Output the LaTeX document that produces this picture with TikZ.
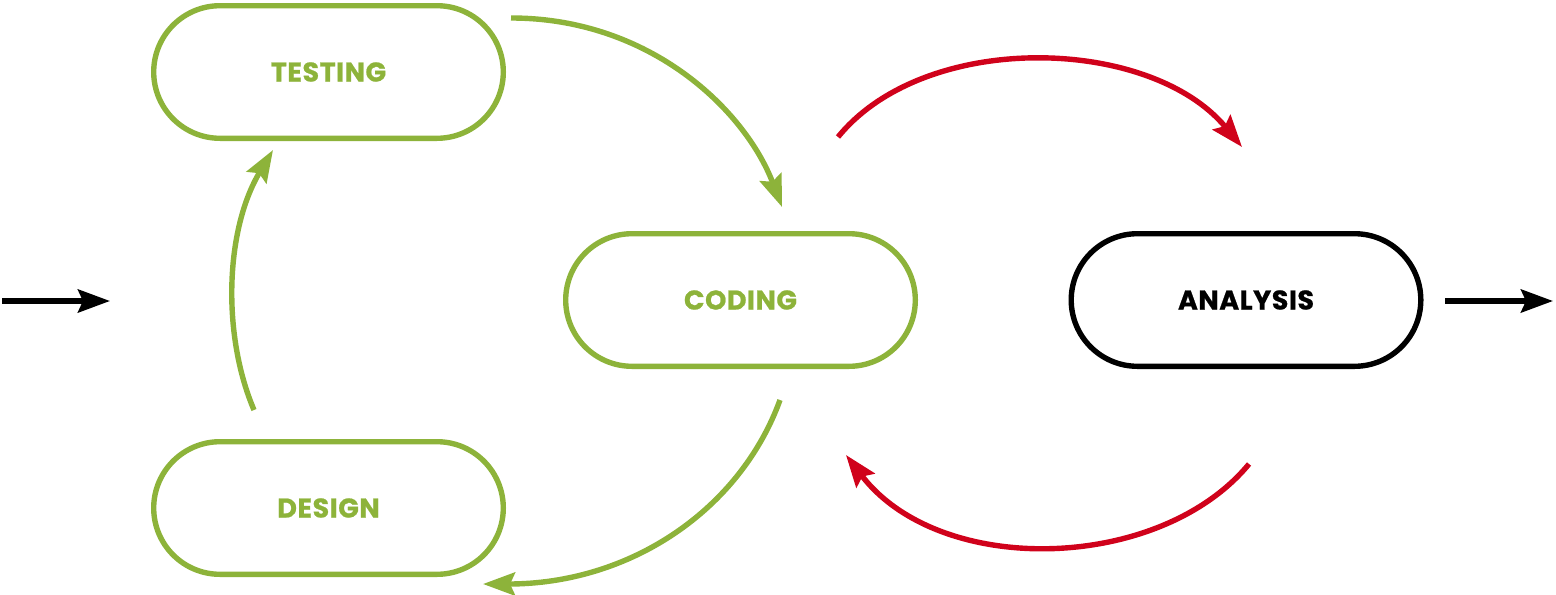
\documentclass[tikz,border=0pt]{standalone}
\usepackage{fontspec}
\setmainfont{Poppins}
\newfontfamily\boxfont[FakeBold=0.8,LetterSpace=2]{Poppins}
\usetikzlibrary{shapes.misc,arrows.meta}
\definecolor{cgreen}{HTML}{8DB33A}
\definecolor{cred}{HTML}{D0021B}
\tikzset{
  phase/.style={rounded rectangle, draw=#1, line width=2.7pt, minimum width=174.8pt, minimum height=66.3pt, inner sep=0pt, text=#1, font=\boxfont\bfseries\fontsize{13.5}{15}\selectfont},
  flow/.style={draw=#1, line width=2.7pt, -{Stealth[length=16pt,width=11.5pt,inset=2.5pt]}},
}
\begin{document}
\begin{tikzpicture}[x=0.5pt,y=-0.5pt]
\useasboundingbox (0,0) rectangle (1556,594);
\node[phase=cgreen] (testing) at (328.5,72) {TESTING};
\node[phase=cgreen] (coding) at (740.5,300) {CODING};
\node[phase=black] (analysis) at (1246,300) {ANALYSIS};
\node[phase=cgreen] (design) at (328.5,508) {DESIGN};
\coordinate (inS) at (2,301);
\coordinate (inE) at (110,301);
\coordinate (outS) at (1445,301);
\coordinate (outE) at (1553,301);
\coordinate (tcS) at (511,18);
\coordinate (tcE) at (782,207);
\coordinate (cdS) at (780,400);
\coordinate (cdE) at (483,584);
\coordinate (dtS) at (254,410);
\coordinate (dtE) at (273,150);
\coordinate (caS) at (838,137);
\coordinate (caE) at (1242,147);
\coordinate (acS) at (1249,464);
\coordinate (acE) at (846,455);
\draw[flow=black] (inS) -- (inE);
\draw[flow=black] (outS) -- (outE);
\draw[flow=cgreen] (tcS) .. controls (650,18) and (745,110) .. (tcE);
\draw[flow=cgreen] (cdS) .. controls (740,510) and (630,584) .. (cdE);
\draw[flow=cgreen] (dtS) .. controls (222,335) and (225,230) .. (dtE);
\draw[flow=cred] (caS) .. controls (925,30) and (1150,36) .. (caE);
\draw[flow=cred] (acS) .. controls (1160,572) and (940,578) .. (acE);
\end{tikzpicture}
\end{document}
